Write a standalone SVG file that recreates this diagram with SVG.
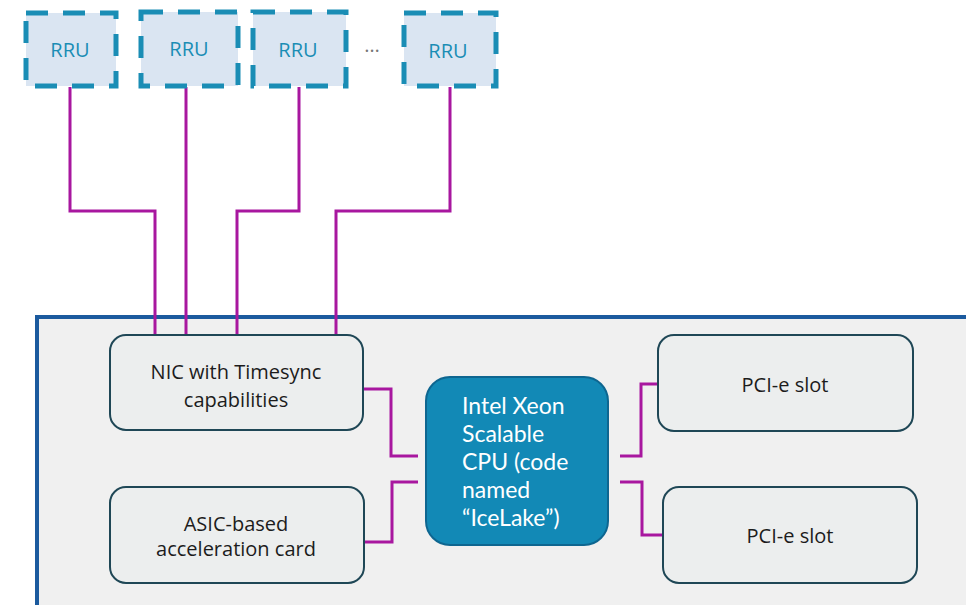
<svg xmlns="http://www.w3.org/2000/svg" width="966" height="605" viewBox="0 0 966 605">
<style>
.rru{fill:#dae5f2;stroke:#1a8db5;stroke-width:5;stroke-dasharray:22 15}
.rt{font-family:"Open Sans","Noto Sans",sans-serif;font-size:20px;fill:#1a8db5;text-anchor:middle}
.box{fill:#eceeee;stroke:#1f4756;stroke-width:2}
.bt{font-family:"Open Sans","Noto Sans",sans-serif;font-size:20px;fill:#1c1c1c;text-anchor:middle}
.ct{font-family:Lato,"Open Sans",sans-serif;font-size:23px;fill:#ffffff}
.wire{fill:none;stroke:#a8179f;stroke-width:3}
</style>
<rect width="966" height="605" fill="#ffffff"/>
<g id="server">
<rect x="37" y="317" width="940" height="300" fill="#f0f0f0" stroke="#1b5a9e" stroke-width="4"/>
</g>
<g id="connectors">
<polyline class="wire" points="70,87 70,211 155,211 155,335"/>
<polyline class="wire" points="186,87 186,335"/>
<polyline class="wire" points="299,87 299,211 237,211 237,335"/>
<polyline class="wire" points="450,87 450,211 336,211 336,335"/>
<polyline class="wire" points="363,389 391,389 391,456 418,456"/>
<polyline class="wire" points="418,482 392,482 392,542 363,542"/>
<polyline class="wire" points="620,456 641,456 641,384 658,384"/>
<polyline class="wire" points="620,482 642,482 642,535 663,535"/>
</g>
<g id="rru1"><rect class="rru" x="26" y="13" width="90" height="73"/><text class="rt" x="70" y="57">RRU</text></g>
<g id="rru2"><rect class="rru" x="141" y="12" width="97" height="74"/><text class="rt" x="189" y="56">RRU</text></g>
<g id="rru3"><rect class="rru" x="253" y="12" width="93" height="74"/><text class="rt" x="298" y="57">RRU</text></g>
<text x="372" y="52" font-family="Open Sans, sans-serif" font-size="20" fill="#777" text-anchor="middle">…</text>
<g id="rru4"><rect class="rru" x="404" y="13" width="92" height="73"/><text class="rt" x="448" y="58">RRU</text></g>
<g id="nic"><rect class="box" x="110" y="335" width="253" height="95" rx="16"/><text class="bt" x="236" y="379">NIC with Timesync</text><text class="bt" x="236" y="407">capabilities</text></g>
<g id="asic"><rect class="box" x="110" y="487" width="254" height="96" rx="16"/><text class="bt" x="236" y="531">ASIC-based</text><text class="bt" x="236" y="556">acceleration card</text></g>
<g id="cpu"><rect x="426" y="377" width="182" height="168" rx="24" fill="#1289b6" stroke="#0e6690" stroke-width="2"/>
<text class="ct" x="462" y="414">Intel Xeon</text><text class="ct" x="462" y="442">Scalable</text><text class="ct" x="462" y="470">CPU (code</text><text class="ct" x="462" y="498">named</text><text class="ct" x="462" y="526">“IceLake”)</text></g>
<g id="pci1"><rect class="box" x="658" y="335" width="255" height="96" rx="16"/><text class="bt" x="785" y="392">PCI-e slot</text></g>
<g id="pci2"><rect class="box" x="663" y="487" width="254" height="96" rx="16"/><text class="bt" x="790" y="543">PCI-e slot</text></g>
</svg>
